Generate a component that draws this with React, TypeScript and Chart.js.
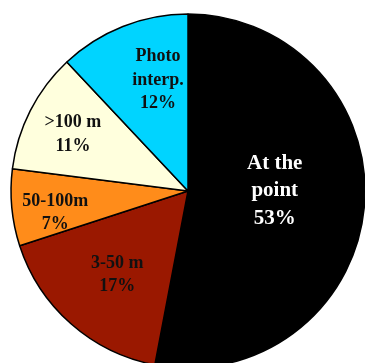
import React, { useEffect, useRef } from "react";
import { Chart, registerables } from "chart.js";

Chart.register(...registerables);

// Share of locations by positional accuracy
const categories: string[][] = [
  ["At the", "point"],
  ["3-50 m"],
  ["50-100m"],
  [">100 m"],
  ["Photo", "interp."],
];
const shares: number[] = [53, 17, 7, 11, 12];
const sliceColors: string[] = ["#000000", "#9a1800", "#ff8c1a", "#ffffdd", "#00d4ff"];
const labelColors: string[] = ["#ffffff", "#111111", "#111111", "#111111", "#111111"];

// label anchor relative to pie centre, in units of the pie radius
const labelAnchors: [number, number][] = [
  [0.49, 0.0],
  [-0.4, 0.475],
  [-0.75, 0.124],
  [-0.65, -0.32],
  [-0.17, -0.627],
];
const labelFontSizes: number[] = [21, 18, 18, 18, 18];

const sliceLabels = {
  id: "sliceLabels",
  afterDatasetsDraw(chart: any) {
    const ctx = chart.ctx as CanvasRenderingContext2D;
    const meta = chart.getDatasetMeta(0);
    meta.data.forEach((arc: any, i: number) => {
      const { x, y, outerRadius } = arc.getProps(["x", "y", "outerRadius"], true);
      const [fx, fy] = labelAnchors[i];
      const cx = x + fx * outerRadius;
      const cy = y + fy * outerRadius;
      const size = labelFontSizes[i];
      const lines = [...categories[i], `${shares[i]}%`];
      const lh = size * 1.3;
      ctx.save();
      ctx.font = `bold ${size}px "Liberation Serif", "Times New Roman", serif`;
      ctx.fillStyle = labelColors[i];
      ctx.textAlign = "center";
      ctx.textBaseline = "middle";
      lines.forEach((t, k) => {
        ctx.fillText(t, cx, cy + (k - (lines.length - 1) / 2) * lh);
      });
      ctx.restore();
    });
  },
};

export default function App() {
  const ref = useRef<HTMLCanvasElement | null>(null);

  useEffect(() => {
    if (!ref.current) return;
    const chart = new Chart(ref.current, {
      type: "pie",
      data: {
        labels: categories.map((c) => c.join(" ")),
        datasets: [
          {
            data: shares,
            backgroundColor: sliceColors,
            borderColor: "#000000",
            borderWidth: 1.5,
            radius: 177,
          },
        ],
      },
      options: {
        responsive: false,
        maintainAspectRatio: false,
        animation: false,
        layout: { padding: 0 },
        plugins: {
          legend: { display: false },
          tooltip: { enabled: false },
        },
      },
      plugins: [sliceLabels],
    });
    return () => chart.destroy();
  }, []);

  return (
    <div
      style={{
        position: "fixed",
        left: 0,
        top: 0,
        width: 365,
        height: 363,
        overflow: "hidden",
        background: "#ffffff",
      }}
    >
      <canvas
        ref={ref}
        width={400}
        height={400}
        style={{ position: "absolute", left: -12, top: -9, width: 400, height: 400 }}
      />
    </div>
  );
}
